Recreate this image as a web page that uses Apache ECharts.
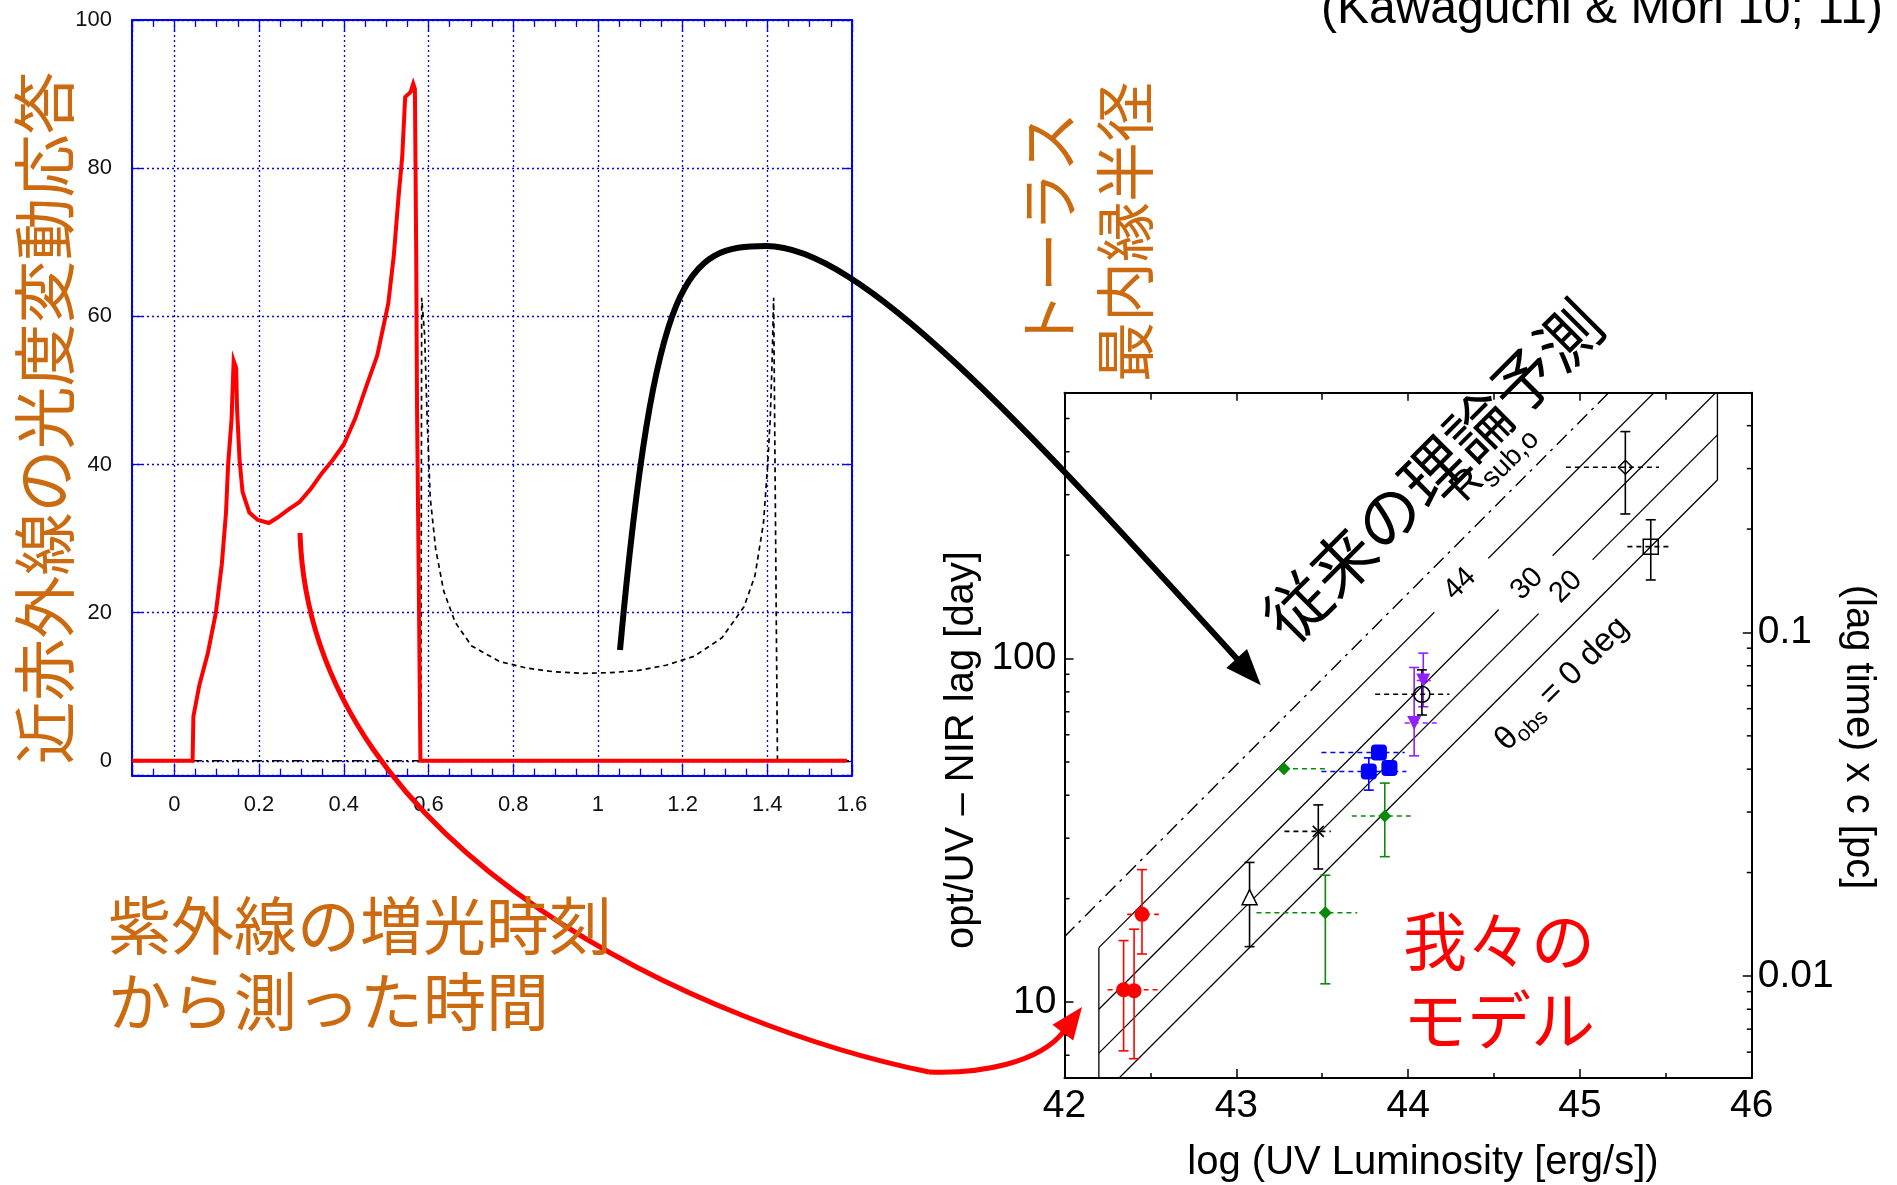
<!DOCTYPE html>
<html><head><meta charset="utf-8">
<script src="https://cdn.jsdelivr.net/npm/echarts@6/dist/echarts.min.js"></script>
<style>html,body{margin:0;padding:0;background:#fff}#c{width:1897px;height:1185px}</style>
</head><body><div id="c"></div>
<script>
// ---------------- Left panel: NIR light-curve response ----------------
const leftXRange = [-0.1, 1.6];
const leftYRange = [-2, 100];
// red: model response
const respX = [-0.1, 0.043, 0.045, 0.059, 0.079, 0.098, 0.112, 0.122, 0.127, 0.135, 0.140, 0.146, 0.148, 0.154, 0.161, 0.177, 0.197, 0.223, 0.243, 0.269, 0.295, 0.322, 0.348, 0.374, 0.400, 0.427, 0.453, 0.479, 0.505, 0.518, 0.529, 0.538, 0.545, 0.558, 0.564, 0.568, 0.571, 0.573, 0.577, 0.581, 1.588];
const respY = [0, 0, 6, 10.2, 14.5, 20, 26.5, 33.5, 40, 46, 54, 53, 47.6, 40.6, 36.3, 33.5, 32.5, 32.1, 32.8, 33.9, 34.9, 36.7, 38.8, 40.6, 42.7, 46.2, 50.5, 54.7, 61.7, 68.1, 75.9, 81.5, 89.6, 90.3, 91.4, 90.7, 68.8, 47.6, 25, 0, 0];
// black dashed: conventional (thin-shell) response
const shellX = [0.582, 0.584, 0.591, 0.597, 0.604, 0.617, 0.636, 0.663, 0.702, 0.768, 0.833, 0.899, 0.965, 1.030, 1.096, 1.161, 1.227, 1.293, 1.345, 1.371, 1.391, 1.400, 1.407, 1.411, 1.415, 1.424, 1.6];
const shellY = [0, 62.5, 57.5, 46, 35.6, 28.6, 22.9, 18.7, 15.5, 13.4, 12.5, 12, 11.8, 11.9, 12.2, 12.9, 14.1, 16.6, 20.8, 25, 32.1, 39.2, 46.2, 53.3, 62.5, 0, 0];
// black dash-dot baseline
const baseX = [-0.1, 0.58];
const baseY = [0, 0];

// ---------------- Right panel: lag vs UV luminosity ----------------
const rightXRange = [42, 46];
const rightYRange = [6.01, 594];          // days
const dayPerPc = 1191.3;                   // light-days per parsec
const dayMinorTicks = [7, 8, 9, 20, 30, 40, 50, 60, 70, 80, 90, 200, 300, 400, 500];
const pcMinorTicks = [0.006, 0.007, 0.008, 0.009, 0.02, 0.03, 0.04, 0.05, 0.06, 0.07, 0.08, 0.09, 0.2, 0.3, 0.4];

const theoryX = [42.2, 45.8];
const line44 = [14.4, 909];
const line30 = [9.53, 601];
const line20 = [7.1, 448];
const line0 = [5.25, 331];
const rsubX = [42, 46];
const rsubY = [15.5, 1550];

const redX = [42.344, 42.405, 42.451];
const redY = [10.86, 10.79, 18.0];
const redYLo = [7.21, 6.84, 13.8];
const redYHi = [15.1, 16.3, 24.3];
const redXLo = [42.251, null, 42.365];
const redXHi = [42.557, null, 42.549];

const triX = [43.077], triY = [20.2], triYLo = [14.5], triYHi = [25.5];

const crossX = [43.477], crossY = [31.4], crossYLo = [24.4], crossYHi = [37.5], crossXLo = [43.28], crossXHi = [43.55];

const greenX = [43.518, 43.277, 43.864];
const greenY = [18.2, 47.8, 34.8];
const greenYLo = [11.3, null, 26.5];
const greenYHi = [23.4, null, 43.4];
const greenXLo = [43.117, 43.277, 43.672];
const greenXHi = [43.704, 43.53, 44.037];

const blueX = [43.771, 43.830, 43.891];
const blueY = [46.9, 53.3, 48.0];
const blueYLo = [41.4, null, null];
const blueYHi = [51.4, null, null];
const blueXLo = [43.495, 43.495, null];
const blueXHi = [43.99, 43.98, null];

const purpleX = [44.088, 44.035];
const purpleY = [86.3, 64.9];
const purpleYLo = [72.4, 52.1];
const purpleYHi = [103.7, 94.2];
const purpleXLo = [44.05, 43.98];
const purpleXHi = [44.15, 44.18];

const circX = [44.08], circY = [78.7], circYLo = [68.5], circYHi = [92.7], circXLo = [43.808], circXHi = [44.24];
const diamX = [45.264], diamY = [360.6], diamYLo = [263.6], diamYHi = [458], diamXLo = [44.918], diamXHi = [45.46];
const sqX = [45.412], sqY = [211.8], sqYLo = [169.4], sqYHi = [253.6], sqXLo = [45.276], sqXHi = [45.537];

// ---------------- styling ----------------
const FONT = "'Liberation Sans', Arial, Helvetica, sans-serif";
const CJK = "'Noto Sans CJK JP', 'Noto Sans CJK SC', sans-serif";
const BLUE = '#0000ff';
const ORANGE = '#cc6a10';
const RED = '#ff0000';
const GREEN = '#0a8a0a';
const PURPLE = '#9020ff';

const chart = echarts.init(document.getElementById('c'));

function fmtLin(v) { return String(+(+v).toFixed(2)); }
function fmtLog(v) {
  const p = Math.log10(v), r = Math.round(p);
  if (Math.abs(p - r) > 1e-6) return '';
  return r >= 0 ? String(Math.pow(10, r)) : Math.pow(10, r).toFixed(-r);
}

const blueLine = { show: true, onZero: false, lineStyle: { color: BLUE, width: 2 } };
const blackLine = { show: true, onZero: false, lineStyle: { color: '#000', width: 2 } };
const blueGrid = { show: true, lineStyle: { color: BLUE, type: [2, 3], width: 1.3 } };

const xAxis = [
  { gridIndex: 0, type: 'value', position: 'bottom', min: leftXRange[0], max: leftXRange[1], splitNumber: 8,
    axisLine: blueLine,
    axisTick: { show: true, inside: true, length: 12, lineStyle: { color: BLUE, width: 1.3 } },
    minorTick: { show: true, splitNumber: 4, length: 7, lineStyle: { color: BLUE, width: 1.3 } },
    splitLine: blueGrid,
    axisLabel: { margin: 18, fontSize: 22, color: '#111', fontFamily: FONT,
      formatter: v => (v < -0.05 ? '' : fmtLin(v)) } },
  { gridIndex: 0, type: 'value', position: 'top', min: leftXRange[0], max: leftXRange[1], splitNumber: 8,
    axisLine: blueLine,
    axisTick: { show: true, inside: true, length: 12, lineStyle: { color: BLUE, width: 1.3 } },
    minorTick: { show: true, splitNumber: 4, length: 7, lineStyle: { color: BLUE, width: 1.3 } },
    splitLine: { show: false }, axisLabel: { show: false } },
  { gridIndex: 1, type: 'value', position: 'bottom', min: rightXRange[0], max: rightXRange[1], interval: 1,
    axisLine: blackLine,
    axisTick: { show: true, inside: true, length: 9, lineStyle: { color: '#000', width: 1.5 } },
    minorTick: { show: true, splitNumber: 2, length: 5, lineStyle: { color: '#000', width: 1.5 } },
    splitLine: { show: false },
    axisLabel: { margin: 9, fontSize: 39, color: '#000', fontFamily: FONT } },
  { gridIndex: 1, type: 'value', position: 'top', min: rightXRange[0], max: rightXRange[1], interval: 1,
    axisLine: blackLine,
    axisTick: { show: true, inside: true, length: 8, lineStyle: { color: '#000', width: 1.5 } },
    minorTick: { show: true, splitNumber: 2, length: 7, lineStyle: { color: '#000', width: 1.5 } },
    splitLine: { show: false }, axisLabel: { show: false } }
];

const yAxis = [
  { gridIndex: 0, type: 'value', position: 'left', min: leftYRange[0], max: leftYRange[1], splitNumber: 5,
    axisLine: blueLine,
    axisTick: { show: true, inside: true, length: 10, lineStyle: { color: BLUE, width: 1.3 } },
    splitLine: blueGrid,
    axisLabel: { margin: 20, fontSize: 22, color: '#111', fontFamily: FONT,
      formatter: v => (v < 0 ? '' : fmtLin(v)) } },
  { gridIndex: 0, type: 'value', position: 'right', min: leftYRange[0], max: leftYRange[1], splitNumber: 5,
    axisLine: blueLine,
    axisTick: { show: true, inside: true, length: 10, lineStyle: { color: BLUE, width: 1.3 } },
    splitLine: { show: false }, axisLabel: { show: false } },
  { gridIndex: 1, type: 'log', logBase: 10, position: 'left', min: rightYRange[0], max: rightYRange[1],
    axisLine: blackLine,
    axisTick: { show: true, inside: true, length: 9, lineStyle: { color: '#000', width: 1.5 } },
    splitLine: { show: false },
    axisLabel: { margin: 8, fontSize: 39, color: '#000', fontFamily: FONT, formatter: fmtLog } },
  { gridIndex: 1, type: 'log', logBase: 10, position: 'right', min: rightYRange[0] / dayPerPc, max: rightYRange[1] / dayPerPc,
    axisLine: blackLine,
    axisTick: { show: true, inside: true, length: 9, lineStyle: { color: '#000', width: 1.5 } },
    splitLine: { show: false },
    axisLabel: { margin: 6, fontSize: 39, color: '#000', fontFamily: FONT, formatter: fmtLog } }
];

function zip(a, b) { return a.map((v, i) => [v, b[i]]); }

function lineSeries(xs, ys, color, width, type, z) {
  return { type: 'line', xAxisIndex: 2, yAxisIndex: 2, data: zip(xs, ys), symbol: 'none', silent: true,
    clip: true, z: z || 2, lineStyle: { color, width, type } };
}

function minorTickSeries(vals, yIdx, xVal, dir) {
  return { type: 'custom', xAxisIndex: 2, yAxisIndex: yIdx, silent: true, clip: false, z: 5,
    data: vals.map(v => [xVal, v]),
    renderItem: (p, api) => {
      const c = api.coord([api.value(0), api.value(1)]);
      return { type: 'line', shape: { x1: c[0], y1: c[1], x2: c[0] + dir * 5, y2: c[1] },
        style: { stroke: '#000', lineWidth: 1.5 } };
    } };
}

function errSeries(g) {
  return { type: 'custom', xAxisIndex: 2, yAxisIndex: 2, silent: true, clip: false, z: 3,
    data: zip(g.x, g.y),
    renderItem: (params, api) => {
      const i = params.dataIndex, ch = [];
      if (g.yLo && g.yLo[i] != null) {
        const a = api.coord([g.x[i], g.yLo[i]]), b = api.coord([g.x[i], g.yHi[i]]);
        ch.push({ type: 'line', shape: { x1: a[0], y1: a[1], x2: b[0], y2: b[1] }, style: { stroke: g.color, lineWidth: 1.6 } });
        [a, b].forEach(c => ch.push({ type: 'line', shape: { x1: c[0] - 5, y1: c[1], x2: c[0] + 5, y2: c[1] }, style: { stroke: g.color, lineWidth: 1.6 } }));
      }
      if (g.xLo && g.xLo[i] != null) {
        const a = api.coord([g.xLo[i], g.y[i]]), b = api.coord([g.xHi[i], g.y[i]]);
        ch.push({ type: 'line', shape: { x1: a[0], y1: a[1], x2: b[0], y2: b[1] }, style: { stroke: g.color, lineWidth: 1.6, lineDash: [5, 4] } });
      }
      return { type: 'group', children: ch };
    } };
}

function pointSeries(g) {
  return { type: 'scatter', xAxisIndex: 2, yAxisIndex: 2, silent: true, z: 4, data: zip(g.x, g.y),
    symbol: g.symbol, symbolSize: g.size, symbolRotate: g.rotate || 0,
    itemStyle: { color: g.fill, borderColor: g.color, borderWidth: g.border || 0, opacity: 1 } };
}

const groups = [
  { x: redX, y: redY, yLo: redYLo, yHi: redYHi, xLo: redXLo, xHi: redXHi, color: RED, fill: RED, symbol: 'circle', size: 15 },
  { x: triX, y: triY, yLo: triYLo, yHi: triYHi, color: '#000', fill: '#fff', border: 1.5, symbol: 'triangle', size: 15 },
  { x: crossX, y: crossY, yLo: crossYLo, yHi: crossYHi, xLo: crossXLo, xHi: crossXHi, color: '#000', fill: 'rgba(0,0,0,0)', border: 1.6, symbol: 'path://M0,0L10,10M10,0L0,10', size: 11 },
  { x: greenX, y: greenY, yLo: greenYLo, yHi: greenYHi, xLo: greenXLo, xHi: greenXHi, color: GREEN, fill: GREEN, symbol: 'diamond', size: 13 },
  { x: blueX, y: blueY, yLo: blueYLo, yHi: blueYHi, xLo: blueXLo, xHi: blueXHi, color: BLUE, fill: BLUE, symbol: 'roundRect', size: 16 },
  { x: purpleX, y: purpleY, yLo: purpleYLo, yHi: purpleYHi, xLo: purpleXLo, xHi: purpleXHi, color: PURPLE, fill: PURPLE, symbol: 'triangle', rotate: 180, size: 14 },
  { x: circX, y: circY, yLo: circYLo, yHi: circYHi, xLo: circXLo, xHi: circXHi, color: '#000', fill: 'rgba(0,0,0,0)', border: 1.5, symbol: 'circle', size: 16 },
  { x: diamX, y: diamY, yLo: diamYLo, yHi: diamYHi, xLo: diamXLo, xHi: diamXHi, color: '#000', fill: 'rgba(0,0,0,0)', border: 1.5, symbol: 'diamond', size: 14 },
  { x: sqX, y: sqY, yLo: sqYLo, yHi: sqYHi, xLo: sqXLo, xHi: sqXHi, color: '#000', fill: 'rgba(0,0,0,0)', border: 1.5, symbol: 'rect', size: 15 }
];

const series = [
  { type: 'line', xAxisIndex: 0, yAxisIndex: 0, data: zip(baseX, baseY), symbol: 'none', silent: true, z: 2,
    lineStyle: { color: '#000', width: 1.5, type: [10, 4, 2, 4] } },
  { type: 'line', xAxisIndex: 0, yAxisIndex: 0, data: zip(shellX, shellY), symbol: 'none', silent: true, z: 2,
    lineStyle: { color: '#000', width: 1.7, type: [5, 4] } },
  { type: 'line', xAxisIndex: 0, yAxisIndex: 0, data: zip(respX, respY), symbol: 'none', silent: true, z: 3,
    lineStyle: { color: RED, width: 4, join: 'miter' } },
  lineSeries(rsubX, rsubY, '#000', 1.4, [14, 6, 3, 6]),
  lineSeries(theoryX, line44, '#000', 1.3, 'solid'),
  lineSeries(theoryX, line30, '#000', 1.3, 'solid'),
  lineSeries(theoryX, line20, '#000', 1.3, 'solid'),
  lineSeries(theoryX, line0, '#000', 1.3, 'solid'),
  lineSeries([theoryX[0], theoryX[0]], [line0[0], line44[0]], '#000', 1.3, 'solid'),
  lineSeries([theoryX[1], theoryX[1]], [line0[1], line44[1]], '#000', 1.3, 'solid'),
  minorTickSeries(dayMinorTicks, 2, rightXRange[0], 1),
  minorTickSeries(pcMinorTicks, 3, rightXRange[1], -1)
];
groups.forEach(g => { series.push(errSeries(g)); series.push(pointSeries(g)); });

// ---------------- annotations ----------------
const mctx = document.createElement('canvas').getContext('2d');
function textW(t, size) { mctx.font = size + 'px ' + FONT; return mctx.measureText(t).width; }

function txt(t, x, y, size, color, opts) {
  opts = opts || {};
  const st = { text: t, fontSize: size, fontFamily: opts.family || FONT, fill: color,
    align: opts.align || 'center', verticalAlign: 'middle', textAlign: opts.align || 'center', textVerticalAlign: 'middle' };
  if (opts.lineHeight) st.lineHeight = opts.lineHeight;
  if (opts.bg) { st.backgroundColor = opts.bg; st.padding = opts.padding; }
  return { type: 'text', x, y, rotation: opts.rot || 0, z: opts.z || 100, silent: true, style: st };
}

// runs of text along a rotated baseline, centred at (cx, cy)
function runs(cx, cy, ang, parts) {
  const ux = Math.cos(ang), uy = -Math.sin(ang), dx = Math.sin(ang), dy = Math.cos(ang);
  const widths = parts.map(p => textW(p.t, p.size));
  const W = widths.reduce((a, b) => a + b, 0);
  let s = -W / 2;
  return parts.map((p, i) => {
    const x = cx + s * ux + (p.dy || 0) * dx, y = cy + s * uy + (p.dy || 0) * dy;
    s += widths[i];
    return txt(p.t, x, y, p.size, '#000', { align: 'left', rot: ang });
  });
}

function arrow(segs, color, width, headLen, headHalf) {
  const els = segs.map(s => ({ type: 'bezierCurve', z: 100, silent: true,
    shape: { x1: s[0][0], y1: s[0][1], cpx1: s[1][0], cpy1: s[1][1], cpx2: s[2][0], cpy2: s[2][1], x2: s[3][0], y2: s[3][1] },
    style: { stroke: color, lineWidth: width, fill: 'none', lineCap: 'butt' } }));
  const last = segs[segs.length - 1];
  const ex = last[3][0] - last[2][0], ey = last[3][1] - last[2][1], n = Math.hypot(ex, ey);
  const ux = ex / n, uy = ey / n, px = -uy, py = ux;
  const bx = last[3][0] - ux * 2, by = last[3][1] - uy * 2;
  const tip = [last[3][0] + ux * headLen, last[3][1] + uy * headLen];
  els.push({ type: 'polygon', z: 100, silent: true,
    shape: { points: [tip, [bx + px * headHalf, by + py * headHalf], [bx - px * headHalf, by - py * headHalf]] },
    style: { fill: color } });
  return els;
}

const Q = Math.PI / 4;
const graphic = [].concat(
  arrow([[[620, 650], [655, 271], [686, 246], [766, 246]],
         [[766, 246], [860, 246], [1020, 420], [1238, 660]]], '#000', 6, 34, 14),
  arrow([[[300, 533], [310, 860], [720, 1030], [929, 1072]],
         [[929, 1072], [980, 1074], [1040, 1063], [1064, 1031]]], RED, 5, 30, 13),
  [
    txt('(Kawaguchi & Mori 10; 11)', 1883, 10, 48, '#000', { align: 'right' }),
    txt('近赤外線の光度変動応答', 44, 418, 63, ORANGE, { family: CJK, rot: Math.PI / 2 }),
    txt('トーラス\n最内縁半径', 1087, 232, 60, ORANGE, { family: CJK, rot: Math.PI / 2, lineHeight: 76 }),
    txt('紫外線の増光時刻\nから測った時間', 108, 963, 63, ORANGE, { family: CJK, align: 'left', lineHeight: 76 }),
    txt('我々の\nモデル', 1403, 980, 64, RED, { family: CJK, align: 'left', lineHeight: 79 }),
    txt('従来の理論予測', 1433, 471, 64, '#000', { family: CJK, rot: Q }),
    txt('44', 1460, 584, 29, '#000', { rot: Q, bg: '#fff', padding: [0, 22] }),
    txt('30', 1527, 584, 29, '#000', { rot: Q, bg: '#fff', padding: [0, 22] }),
    txt('20', 1566, 587, 29, '#000', { rot: Q, bg: '#fff', padding: [0, 22] }),
    txt('opt/UV – NIR lag [day]', 962, 750, 40, '#000', { rot: Math.PI / 2 }),
    txt('(lag time) x c [pc]', 1858, 737, 40, '#000', { rot: -Math.PI / 2 }),
    txt('log (UV Luminosity [erg/s])', 1423, 1163, 40, '#000')
  ],
  runs(1492, 461, Q, [{ t: 'R', size: 40 }, { t: 'sub,o', size: 28, dy: 12 }]),
  runs(1562, 684, Q, [{ t: 'θ', size: 33 }, { t: 'obs', size: 22, dy: 9 }, { t: ' = 0 deg', size: 33 }])
);

chart.setOption({
  animation: false,
  backgroundColor: '#fff',
  textStyle: { fontFamily: FONT },
  grid: [
    { left: 132, top: 20, width: 720, height: 755.6, containLabel: false },
    { left: 1064.5, top: 392.8, width: 687.3, height: 685.2, containLabel: false }
  ],
  xAxis, yAxis, series, graphic
});
</script>
</body></html>
